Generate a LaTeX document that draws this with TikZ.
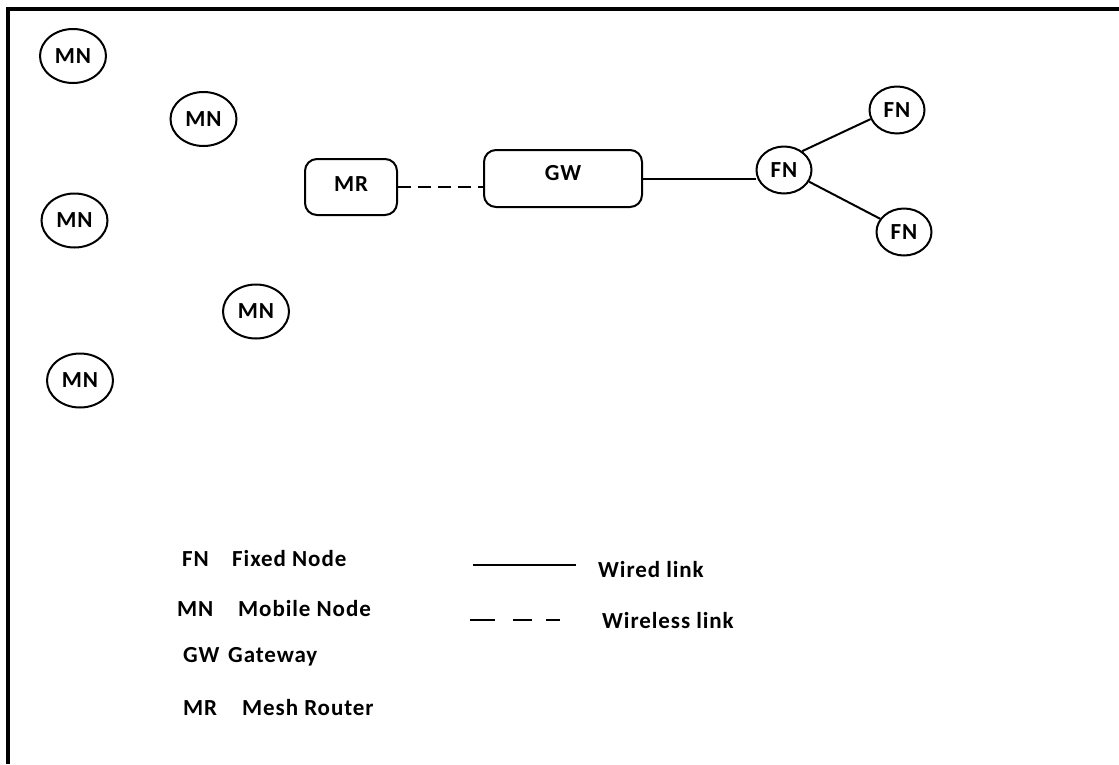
\documentclass[tikz,border=0pt]{standalone}
\usepackage{fontspec}
\setmainfont{Carlito}
\newfontfamily\lblfont[LetterSpace=4]{Carlito}
\usetikzlibrary{shapes.geometric}
\newcommand{\lbl}{\lblfont\bfseries\fontsize{23}{27}\selectfont}
\tikzset{
  mn/.style={ellipse, draw, line width=2pt, inner sep=0pt, minimum width=66pt, minimum height=54pt, font=\lbl},
  fn/.style={ellipse, draw, line width=2pt, inner sep=0pt, minimum width=55pt, minimum height=47pt, font=\lbl},
  rbox/.style={rectangle, rounded corners=12pt, draw, line width=2pt, inner sep=0pt, font=\lbl},
  link/.style={line width=2pt},
  wlink/.style={line width=2pt, dash pattern=on 13pt off 7pt},
  txt/.style={anchor=base west, inner sep=0pt, font=\lbl}
}
\begin{document}
\begin{tikzpicture}[x=1pt,y=-1pt]
\useasboundingbox (0,0) rectangle (1119,764);
\fill[white] (0,0) rectangle (1119,764);
% frame
\draw[line width=3.5pt] (8,764) -- (8,9) -- (1119,9);
% mobile nodes
\node[mn] (mn1) at (73,56) {MN};
\node[mn] (mn2) at (203.5,119) {MN};
\node[mn] (mn3) at (74.5,220.5) {MN};
\node[mn] (mn4) at (256,311.5) {MN};
\node[mn] (mn5) at (80,380.5) {MN};
% router, gateway
\node[rbox, minimum width=92pt, minimum height=56pt] (mr) at (351,187) {};
\node[font=\lbl, inner sep=0pt] (mrt) at (351,184) {MR};
\node[rbox, minimum width=158pt, minimum height=57pt] (gw) at (563,178.5) {};
\node[font=\lbl, inner sep=0pt] (gwt) at (563,173.5) {GW};
% fixed nodes
\node[fn] (fn1) at (784,170) {FN};
\node[fn] (fn2) at (897,110) {FN};
\node[fn] (fn3) at (904,232) {FN};
% links
\draw[wlink] (mr.east) -- (mr.east -| gw.west);
\draw[link] (gw.east) -- (gw.east -| fn1.west);
\draw[link] (fn1.46) -- (fn2.199);
\draw[link] (fn1.335) -- (fn3.151);
% legend
\node[txt] (k1) at (182,566) {FN};
\node[txt] (v1) at (232,566) {Fixed Node};
\node[txt] (k2) at (177,616) {MN};
\node[txt] (v2) at (238,616) {Mobile Node};
\node[txt] (k3) at (183,662) {GW};
\node[txt] (v3) at (228,662) {Gateway};
\node[txt] (k4) at (183,715) {MR};
\node[txt] (v4) at (242,715) {Mesh Router};
\coordinate (wa) at (473,565);
\coordinate (wb) at (576,565);
\draw[link] (wa) -- (wb);
\node[txt] (wt) at (598,577) {Wired link};
\coordinate (la) at (470,620);
\coordinate (lb) at (560,620);
\draw[line width=2pt, dash pattern=on 25pt off 18pt on 19pt off 14pt on 14pt] (la) -- (lb);
\node[txt] (lt) at (602,628) {Wireless link};
\end{tikzpicture}
\end{document}
